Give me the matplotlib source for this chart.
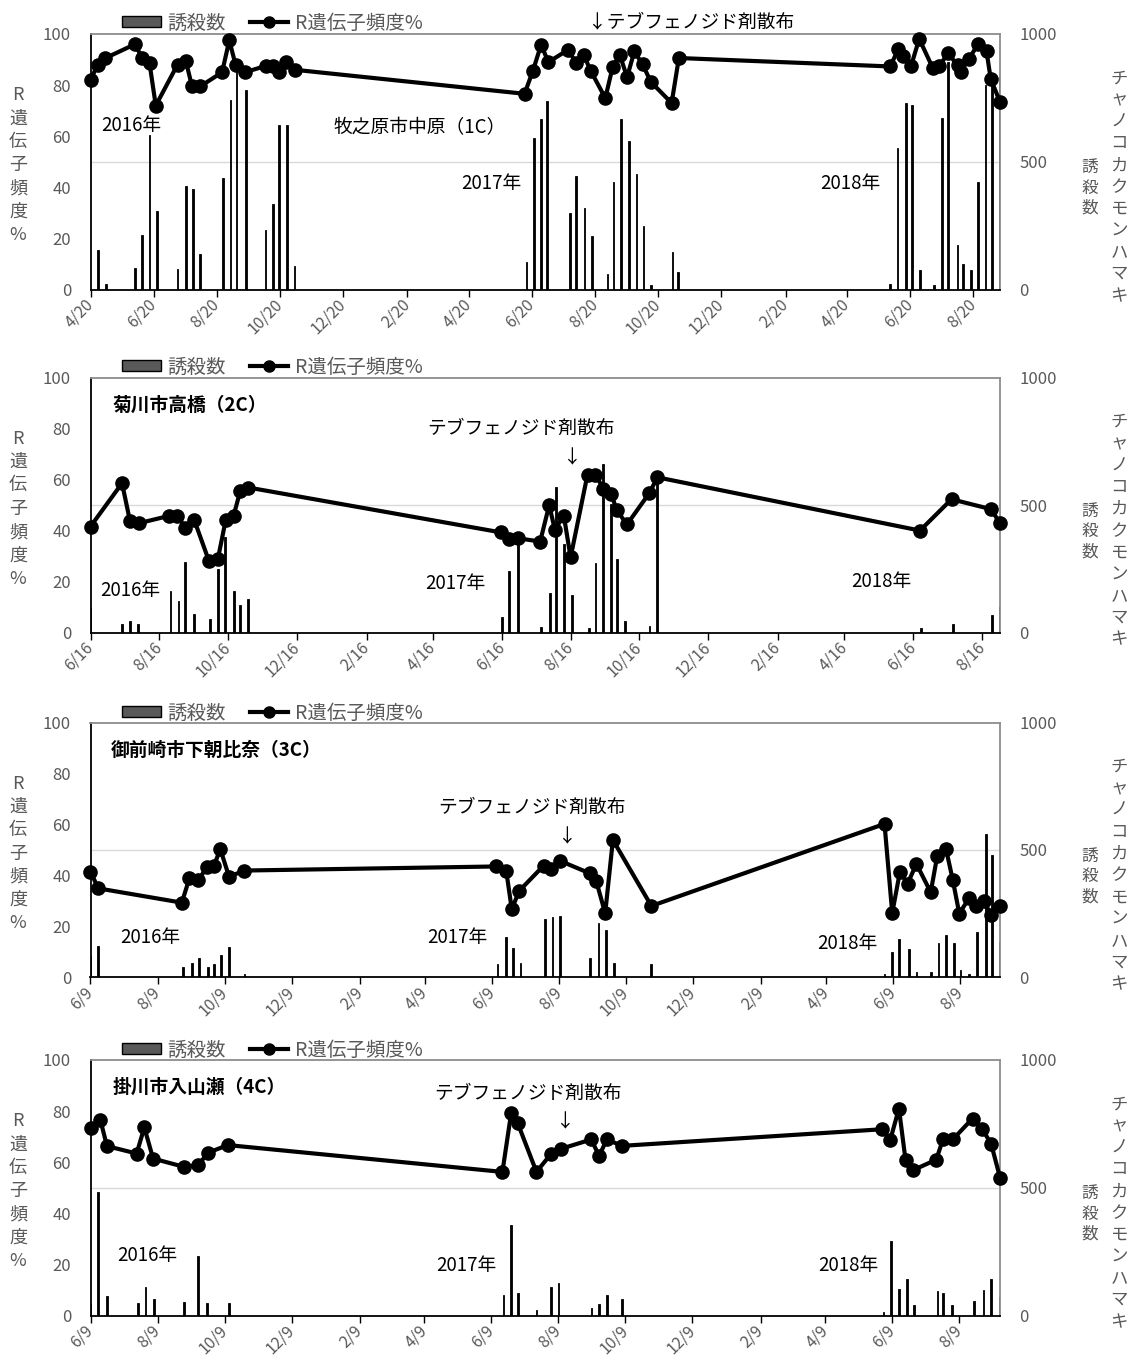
import pandas as pd
import numpy as np
import matplotlib
matplotlib.use('Agg')
import matplotlib.pyplot as plt
import matplotlib.dates as mdates
from matplotlib.patches import Patch
from matplotlib.lines import Line2D

plt.rcParams['font.family'] = ['Noto Sans CJK JP', 'DejaVu Sans']

# ---- 牧之原市中原(1C) ----
p1_r_dates = ['2016-04-20', '2016-04-27', '2016-05-04', '2016-06-02', '2016-06-09', '2016-06-16',
              '2016-06-22', '2016-07-13', '2016-07-21', '2016-07-27', '2016-08-04', '2016-08-25',
              '2016-09-01', '2016-09-07', '2016-09-16', '2016-10-06', '2016-10-13', '2016-10-19',
              '2016-10-26', '2016-11-03',
              '2017-06-13', '2017-06-21', '2017-06-29', '2017-07-06', '2017-07-25', '2017-08-02',
              '2017-08-09', '2017-08-16', '2017-08-30', '2017-09-06', '2017-09-13', '2017-09-20',
              '2017-09-27', '2017-10-05', '2017-10-13', '2017-11-02', '2017-11-09',
              '2018-06-01', '2018-06-09', '2018-06-13', '2018-06-21', '2018-06-29', '2018-07-12',
              '2018-07-18', '2018-07-27', '2018-08-05', '2018-08-08', '2018-08-16', '2018-08-25',
              '2018-09-02', '2018-09-06', '2018-09-15']
p1_r_vals = [82, 88, 90.5, 96, 90.5, 88.5, 72, 88, 89.5, 79.5, 79.5, 85, 97.5, 88, 85, 87.5, 87.5, 85,
             89, 86,
             76.6, 85.5, 95.8, 89, 93.8, 88.6, 91.9, 85.5, 74.9, 87, 91.8, 83.1, 93.2, 88.1, 81.2, 73,
             90.6,
             87.3, 94.2, 91.2, 87.3, 98.1, 86.8, 87.3, 92.5, 87.7, 85.1, 90.3, 96.1, 93.2, 82.5, 73.4]
p1_trap_dates = ['2016-04-27', '2016-05-05', '2016-06-02', '2016-06-09', '2016-06-16', '2016-06-23',
                 '2016-07-13', '2016-07-21', '2016-07-28', '2016-08-04', '2016-08-26', '2016-09-02',
                 '2016-09-08', '2016-09-17', '2016-10-06', '2016-10-13', '2016-10-19', '2016-10-27',
                 '2016-11-03',
                 '2017-06-15', '2017-06-22', '2017-06-29', '2017-07-05', '2017-07-27', '2017-08-02',
                 '2017-08-10', '2017-08-17', '2017-09-01', '2017-09-07', '2017-09-14', '2017-09-22',
                 '2017-09-29', '2017-10-06', '2017-10-13', '2017-11-03', '2017-11-08',
                 '2018-06-01', '2018-06-08', '2018-06-16', '2018-06-22', '2018-06-30', '2018-07-13',
                 '2018-07-21', '2018-07-27', '2018-08-05', '2018-08-10', '2018-08-18', '2018-08-25',
                 '2018-09-01', '2018-09-07', '2018-09-15']
p1_trap_vals = [156, 23, 86, 212, 604, 306, 82, 404, 392, 138, 438, 743, 880, 782, 232, 334, 645, 645, 93,
                106, 593, 669, 736, 301, 445, 318, 208, 61, 422, 669, 582, 451, 249, 19, 147, 68,
                23, 552, 731, 723, 78, 19, 673, 890, 175, 100, 78, 422, 800, 810, 830]

# ---- 菊川市高橋(2C) ----
p2_r_dates = ['2016-06-16', '2016-07-14', '2016-07-21', '2016-07-29', '2016-08-25', '2016-09-01',
              '2016-09-08', '2016-09-16', '2016-09-29', '2016-10-07', '2016-10-14', '2016-10-21',
              '2016-10-27', '2016-11-03',
              '2017-06-15', '2017-06-22', '2017-06-30', '2017-07-20', '2017-07-28', '2017-08-02',
              '2017-08-10', '2017-08-16', '2017-08-31', '2017-09-07', '2017-09-14', '2017-09-21',
              '2017-09-26', '2017-10-05', '2017-10-25', '2017-11-01',
              '2018-06-22', '2018-07-20', '2018-08-24', '2018-09-01']
p2_r_vals = [41.6, 58.6, 43.8, 42.9, 45.8, 45.8, 41.2, 44.2, 28.2, 28.8, 44.2, 45.9, 55.7, 56.9,
             39.3, 36.8, 37, 35.7, 50, 40.4, 45.8, 29.5, 62, 62, 56.5, 54.3, 48, 42.4, 54.8, 60.9,
             40, 52.3, 48.4, 42.9]
p2_trap_dates = ['2016-06-16', '2016-07-14', '2016-07-21', '2016-07-28', '2016-08-26', '2016-09-02',
                 '2016-09-08', '2016-09-16', '2016-09-30', '2016-10-07', '2016-10-13', '2016-10-21',
                 '2016-10-27', '2016-11-03',
                 '2017-06-16', '2017-06-22', '2017-06-30', '2017-07-21', '2017-07-29', '2017-08-03',
                 '2017-08-10', '2017-08-17', '2017-09-01', '2017-09-07', '2017-09-14', '2017-09-21',
                 '2017-09-26', '2017-10-03', '2017-10-25', '2017-11-01',
                 '2018-06-23', '2018-07-21', '2018-08-25', '2018-09-01']
p2_trap_vals = [98, 34, 46, 34, 161, 122, 275, 73, 52, 248, 373, 161, 108, 133,
                62, 241, 360, 22, 156, 572, 347, 149, 16, 271, 661, 505, 287, 45, 26, 600,
                16, 34, 69, 102]

# ---- 御前崎市下朝比奈(3C) ----
p3_r_dates = ['2016-06-09', '2016-06-16', '2016-08-31', '2016-09-07', '2016-09-15', '2016-09-23',
              '2016-09-29', '2016-10-05', '2016-10-13', '2016-10-27',
              '2017-06-13', '2017-06-22', '2017-06-27', '2017-07-04', '2017-07-26', '2017-08-02',
              '2017-08-10', '2017-09-06', '2017-09-12', '2017-09-20', '2017-09-27', '2017-11-01',
              '2018-06-01', '2018-06-08', '2018-06-15', '2018-06-22', '2018-06-30', '2018-07-13',
              '2018-07-19', '2018-07-27', '2018-08-02', '2018-08-08', '2018-08-17', '2018-08-23',
              '2018-08-30', '2018-09-06', '2018-09-14']
p3_r_vals = [41.5, 34.9, 29.3, 38.9, 38.2, 43.2, 43.5, 50.3, 39.5, 41.9,
             43.5, 41.9, 26.8, 34, 43.8, 42.5, 45.7, 40.8, 37.6, 25.1, 53.9, 28,
             60.2, 25.2, 41.4, 36.8, 44.5, 33.4, 47.8, 50.2, 38.3, 25, 31.2, 28, 30, 24.5, 27.8]
p3_trap_dates = ['2016-06-09', '2016-06-16', '2016-09-01', '2016-09-09', '2016-09-16', '2016-09-24',
                 '2016-09-29', '2016-10-06', '2016-10-13', '2016-10-27',
                 '2017-06-14', '2017-06-22', '2017-06-28', '2017-07-05', '2017-07-27', '2017-08-03',
                 '2017-08-10', '2017-09-06', '2017-09-14', '2017-09-21', '2017-09-28', '2017-11-01',
                 '2018-06-01', '2018-06-08', '2018-06-14', '2018-06-23', '2018-06-30', '2018-07-13',
                 '2018-07-20', '2018-07-27', '2018-08-03', '2018-08-09', '2018-08-17', '2018-08-24',
                 '2018-09-01', '2018-09-07', '2018-09-14']
p3_trap_vals = [84, 123, 42, 58, 77, 42, 52, 88, 118, 13,
                52, 157, 116, 58, 228, 236, 241, 77, 215, 186, 58, 52,
                13, 98, 150, 110, 19, 19, 134, 167, 134, 30, 13, 179, 564, 479, 140]

# ---- 掛川市入山瀬(4C) ----
p4_r_dates = ['2016-06-09', '2016-06-18', '2016-06-24', '2016-07-21', '2016-07-28', '2016-08-05',
              '2016-09-02', '2016-09-15', '2016-09-24', '2016-10-12',
              '2017-06-19', '2017-06-27', '2017-07-03', '2017-07-20', '2017-08-02', '2017-08-11',
              '2017-09-08', '2017-09-15', '2017-09-22', '2017-10-06',
              '2018-05-31', '2018-06-07', '2018-06-15', '2018-06-21', '2018-06-28', '2018-07-19',
              '2018-07-25', '2018-08-03', '2018-08-21', '2018-08-30', '2018-09-07', '2018-09-15']
p4_r_vals = [73.5, 76.5, 66.3, 63.4, 73.6, 61.4, 58.2, 58.8, 63.7, 66.7,
             56.2, 79.3, 75.2, 56.2, 63.1, 65.2, 68.9, 62.4, 68.9, 66.4,
             72.9, 68.6, 81, 60.8, 56.9, 61, 68.9, 68.9, 77.1, 72.9, 67.1, 54]
p4_trap_dates = ['2016-06-09', '2016-06-16', '2016-06-24', '2016-07-22', '2016-07-29', '2016-08-06',
                 '2016-09-02', '2016-09-15', '2016-09-23', '2016-10-13',
                 '2017-06-20', '2017-06-27', '2017-07-03', '2017-07-20', '2017-08-02', '2017-08-09',
                 '2017-09-08', '2017-09-15', '2017-09-22', '2017-10-06',
                 '2018-06-01', '2018-06-08', '2018-06-15', '2018-06-22', '2018-06-29', '2018-07-20',
                 '2018-07-25', '2018-08-02', '2018-08-22', '2018-08-31', '2018-09-07', '2018-09-15']
p4_trap_vals = [46, 484, 76, 48, 111, 65, 52, 231, 48, 48,
                82, 353, 88, 20, 111, 128, 30, 46, 82, 65,
                13, 290, 105, 144, 42, 94, 88, 42, 55, 98, 144, 72]

GRAY = '#595959'
W, H = 1132, 1368
fig = plt.figure(figsize=(W / 100, H / 100), dpi=100)


def fx(x):
    return x / W


def fy(y):
    return 1 - y / H


def md_label(v, pos):
    d = mdates.num2date(v)
    return f'{d.month}/{d.day}'


def draw_panel(top, bottom, r_dates, r_vals, trap_dates, trap_vals, tick_day, texts, leg_y, bold_name):
    ax = fig.add_axes([fx(90.5), fy(bottom), fx(1000) - fx(90.5), (bottom - top) / H])
    ax2 = ax.twinx()
    ax.set_zorder(ax2.get_zorder() + 1)
    ax.patch.set_visible(False)

    xr = mdates.date2num(pd.to_datetime(r_dates))
    xt = mdates.date2num(pd.to_datetime(trap_dates))

    ax2.axhline(500, color='#d9d9d9', lw=1, zorder=0)
    ax2.bar(xt, trap_vals, width=1.6, facecolor='black', edgecolor='black', lw=0.6)
    ax.plot(xr, r_vals, color='black', lw=3, marker='o', ms=9.5, clip_on=False, zorder=5)

    ax.set_xlim(xr[0], xr[-1])
    ax.set_ylim(0, 100)
    ax2.set_ylim(0, 1000)
    ax.set_yticks([0, 20, 40, 60, 80, 100])
    ax2.set_yticks([0, 500, 1000])

    ax.xaxis.set_major_locator(mdates.MonthLocator(bymonth=range(2, 13, 2), bymonthday=tick_day))
    ax.xaxis.set_major_formatter(plt.FuncFormatter(md_label))
    ax.tick_params(axis='x', direction='out', length=5, width=1, color='black', pad=4,
                   labelsize=11.5, labelcolor=GRAY)
    plt.setp(ax.get_xticklabels(), rotation=45, ha='right', va='center', rotation_mode='anchor')
    ax.tick_params(axis='y', length=0, pad=14, labelsize=12, labelcolor=GRAY)
    ax2.tick_params(axis='y', length=0, pad=14, labelsize=12, labelcolor=GRAY)

    for s in ax2.spines.values():
        s.set_visible(False)
    ax.spines['left'].set_color('black')
    ax.spines['bottom'].set_color('black')
    ax.spines['top'].set_color('#8c8c8c')
    ax.spines['right'].set_color('#8c8c8c')
    for s in ax.spines.values():
        s.set_linewidth(1.3)

    # axis titles (stacked vertically)
    fig.text(fx(18), fy(top + 131), '\n'.join('R遺伝子頻度%'), ha='center', va='center',
             fontsize=13, linespacing=1.38, color=GRAY)
    fig.text(fx(1090), fy(top + 154), '\n'.join('誘殺数'), ha='center', va='center',
             fontsize=12, linespacing=1.25, color=GRAY)
    fig.text(fx(1119), fy(top + 153), '\n'.join('チャノコカクモンハマキ'), ha='center', va='center',
             fontsize=12.5, linespacing=1.27, color=GRAY)

    for i, (s, x, y) in enumerate(texts):
        w = 'bold' if (i == 0 and bold_name) else 'normal'
        fig.text(fx(x), fy(y), s, ha='left', va='center', fontsize=13.5, color='black', fontweight=w)

    handles = [Patch(facecolor=GRAY, edgecolor='black', lw=1, label='誘殺数'),
               Line2D([], [], color='black', lw=3, marker='o', ms=8, label='R遺伝子頻度%')]
    fig.legend(handles=handles, loc='center left', bbox_to_anchor=(fx(122), fy(leg_y)), ncol=2,
               frameon=False, fontsize=14, handlelength=2.0, handleheight=0.55, handletextpad=0.35,
               columnspacing=1.2, borderpad=0, borderaxespad=0, labelcolor=GRAY)
    return ax


draw_panel(34, 289.5, p1_r_dates, p1_r_vals, p1_trap_dates, p1_trap_vals, 20,
           [('牧之原市中原（1C）', 333, 128), ('2016年', 101, 126), ('2017年', 461, 183),
            ('2018年', 820, 183), ('↓テブフェノジド剤散布', 588, 22)], 23, False)
draw_panel(377.7, 632.5, p2_r_dates, p2_r_vals, p2_trap_dates, p2_trap_vals, 16,
           [('菊川市高橋（2C）', 113, 405), ('テブフェノジド剤散布', 427, 428), ('↓', 563, 458),
            ('2016年', 100, 590), ('2017年', 425, 583), ('2018年', 851, 581)], 367, True)
draw_panel(722.5, 977.3, p3_r_dates, p3_r_vals, p3_trap_dates, p3_trap_vals, 9,
           [('御前崎市下朝比奈（3C）', 111, 750), ('テブフェノジド剤散布', 438, 807), ('↓', 558, 837),
            ('2016年', 120, 937), ('2017年', 427, 938), ('2018年', 817, 944)], 713, True)
draw_panel(1060, 1315.5, p4_r_dates, p4_r_vals, p4_trap_dates, p4_trap_vals, 9,
           [('掛川市入山瀬（4C）', 113, 1087), ('テブフェノジド剤散布', 434, 1093), ('↓', 556, 1122),
            ('2016年', 117, 1255), ('2017年', 436, 1266), ('2018年', 818, 1265)], 1050, True)

plt.savefig('out.png', dpi=100)
